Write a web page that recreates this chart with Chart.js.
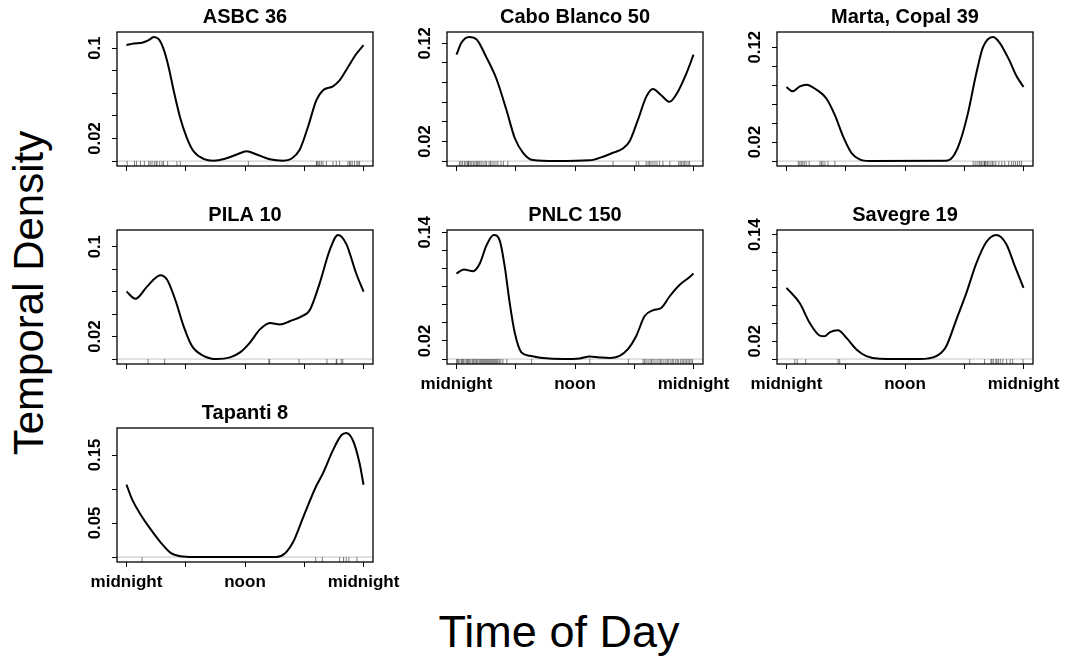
<!DOCTYPE html>
<html lang="en">
<head>
<meta charset="utf-8">
<title>Temporal density by site</title>
<script src="https://cdn.jsdelivr.net/npm/chart.js@4.4.0/dist/chart.umd.min.js"></script>
<style>
  html, body { margin: 0; padding: 0; background: #fff; overflow: hidden; }
  body { width: 1075px; height: 659px; position: relative; font-family: "Liberation Sans", Arial, sans-serif; }
  canvas { position: absolute; }
  .outer { position: absolute; color: #000; white-space: nowrap; text-align: center; width: 400px; }
  #ytitle { font-size: 42px; line-height: 42px; left: 28.75px; top: 293.3px; transform: translate(-50%, -50%) rotate(-90deg); }
  #xtitle { font-size: 45px; line-height: 45px; left: 559px; top: 631px; transform: translate(-50%, -50%); }
</style>
</head>
<body>
<div id="ytitle" class="outer">Temporal Density</div>
<div id="xtitle" class="outer">Time of Day</div>
<script>
// hours of the day on every x axis
const hourTicks = [0, 6, 12, 18, 24];
const hourLabels = ['midnight', '', 'noon', '', 'midnight'];

// ASBC 36
const asbcHours = [0, 0.74, 1.58, 2.25, 2.76, 3.26, 3.76, 4.27, 4.77, 5.45, 6.12, 6.79, 7.8, 8.8, 9.98, 11.16, 12.17, 13.18, 14.52, 15.87, 16.7, 17.55, 18.39, 19.23, 19.9, 20.9, 21.58, 22.42, 23.26, 24];
const asbcDensity = [0.1026, 0.1041, 0.1047, 0.107, 0.1099, 0.1079, 0.0991, 0.0831, 0.0627, 0.0379, 0.0204, 0.0087, 0.002, 0.0003, 0.002, 0.0058, 0.0087, 0.0058, 0.0015, 0.0003, 0.002, 0.0102, 0.0306, 0.0539, 0.0627, 0.0662, 0.0714, 0.0831, 0.0948, 0.1026];
const asbcRug = [0.07, 0.81, 1.01, 1.41, 1.81, 2.25, 2.4, 2.59, 2.82, 3.0, 3.1, 3.36, 3.6, 3.75, 4.17, 5.11, 5.45, 12.34, 19.23, 19.3, 19.4, 19.56, 19.73, 19.9, 20.24, 20.91, 21.24, 21.58, 22.42, 22.59, 22.7, 22.86, 23.09, 23.33, 23.45, 23.6];
const asbcYTicks = [0, 0.02, 0.04, 0.06, 0.08, 0.1];
const asbcYLabels = ['', '0.02', '', '', '', '0.1'];

// Cabo Blanco 50
const caboHours = [0, 0.51, 1.28, 2.02, 3.03, 4.04, 5.06, 5.9, 6.74, 7.75, 10.1, 13.48, 14.83, 15.84, 16.85, 17.53, 18.37, 19.21, 19.89, 20.73, 21.57, 22.31, 23.26, 24];
const caboDensity = [0.1084, 0.1208, 0.1265, 0.1242, 0.1057, 0.0839, 0.052, 0.0235, 0.0084, 0.001, 0, 0.0007, 0.0044, 0.0084, 0.0128, 0.0201, 0.0419, 0.0654, 0.0735, 0.0671, 0.0604, 0.0688, 0.0889, 0.1084];
const caboRug = [0.3, 0.45, 0.6, 0.8, 0.95, 1.1, 1.2, 1.25, 1.4, 1.55, 1.7, 1.85, 2.0, 2.1, 2.2, 2.35, 2.5, 2.7, 2.9, 3.05, 3.3, 3.45, 3.6, 3.8, 4.0, 4.2, 4.5, 4.75, 5.2, 15.85, 18.2, 18.45, 19.2, 19.4, 19.55, 19.7, 19.9, 20.1, 20.3, 20.55, 20.9, 21.6, 22.5, 22.65, 22.8, 22.95, 23.1, 23.25, 23.45, 23.6];
const caboYTicks = [0, 0.02, 0.04, 0.06, 0.08, 0.1, 0.12];
const caboYLabels = ['', '0.02', '', '', '', '', '0.12'];

// Marta, Copal 39
const martaHours = [0, 0.61, 1.35, 2.02, 3.03, 4.04, 4.89, 5.73, 6.57, 7.41, 8.43, 16.18, 16.85, 17.53, 18.37, 19.21, 19.89, 20.9, 21.57, 22.58, 23.26, 24];
const martaDensity = [0.0781, 0.0736, 0.0788, 0.0806, 0.0753, 0.066, 0.0486, 0.026, 0.0087, 0.0017, 0, 0.0003, 0.0045, 0.0191, 0.0503, 0.092, 0.1198, 0.1309, 0.125, 0.1059, 0.0903, 0.0781];
const martaRug = [1.2, 1.35, 1.5, 1.65, 1.8, 2.0, 2.3, 3.4, 3.55, 3.7, 3.9, 4.2, 4.9, 18.9, 19.1, 19.3, 19.5, 19.6, 19.75, 19.9, 20.05, 20.1, 20.2, 20.35, 20.5, 20.7, 20.85, 21.0, 21.2, 21.5, 21.8, 22.1, 22.5, 22.8, 23.0, 23.2, 23.4, 23.6, 23.8];
const martaYTicks = [0, 0.02, 0.04, 0.06, 0.08, 0.1, 0.12];
const martaYLabels = ['', '0.02', '', '', '', '', '0.12'];

// PILA 10
const pilaHours = [0, 0.91, 2.08, 3.43, 4.1, 4.94, 5.78, 6.62, 7.8, 9.14, 10.49, 11.5, 12.5, 13.51, 14.52, 15.53, 16.54, 17.88, 18.55, 19.56, 20.57, 21.41, 22.25, 23.26, 24];
const pilaDensity = [0.0601, 0.0536, 0.0645, 0.0747, 0.0709, 0.0528, 0.0293, 0.0117, 0.0029, 0, 0.0015, 0.0059, 0.0147, 0.0264, 0.0322, 0.0308, 0.0337, 0.0387, 0.0434, 0.0674, 0.0967, 0.1105, 0.1026, 0.0762, 0.0601];
const pilaRug = [2.19, 3.86, 14.42, 14.5, 17.48, 20.3, 21.24, 21.3, 21.75, 21.9];
const pilaYTicks = [0, 0.02, 0.04, 0.06, 0.08, 0.1];
const pilaYLabels = ['', '0.02', '', '', '', '0.1'];

// PNLC 150
const pnlcHours = [0, 0.74, 1.69, 2.36, 3.03, 3.77, 4.38, 4.89, 5.39, 5.9, 6.57, 7.41, 8.76, 10.79, 12.47, 13.48, 14.49, 15.5, 16.52, 17.36, 18.2, 19.04, 19.89, 20.73, 21.57, 22.58, 23.42, 24];
const pnlcDensity = [0.0945, 0.0989, 0.0971, 0.1055, 0.1255, 0.1371, 0.1309, 0.1018, 0.0618, 0.0291, 0.0073, 0.0036, 0.0011, 0, 0.0007, 0.0029, 0.0018, 0.0011, 0.0036, 0.0109, 0.0255, 0.0473, 0.0538, 0.0564, 0.0691, 0.0818, 0.0891, 0.0945];
const pnlcRug = [0.0, 0.1, 0.2, 0.35, 0.5, 0.6, 0.7, 0.85, 1.0, 1.1, 1.2, 1.3, 1.45, 1.6, 1.7, 1.8, 1.95, 2.05, 2.15, 2.3, 2.4, 2.5, 2.6, 2.7, 2.8, 2.9, 3.0, 3.1, 3.2, 3.3, 3.4, 3.5, 3.6, 3.7, 3.8, 3.9, 4.0, 4.1, 4.2, 4.35, 4.5, 4.7, 5.1, 7.6, 13.5, 17.4, 18.9, 19.05, 19.2, 19.4, 19.6, 19.75, 19.9, 20.1, 20.3, 20.5, 20.65, 20.8, 21.0, 21.2, 21.35, 21.5, 21.7, 21.85, 22.0, 22.2, 22.35, 22.5, 22.7, 22.85, 23.0, 23.15, 23.3, 23.45, 23.6, 23.75, 23.9];
const pnlcYTicks = [0, 0.02, 0.04, 0.06, 0.08, 0.1, 0.12, 0.14];
const pnlcYLabels = ['', '0.02', '', '', '', '', '', '0.14'];

// Savegre 19
const savegreHours = [0, 1.35, 2.36, 3.37, 3.88, 4.38, 5.22, 6.07, 7.08, 8.09, 9.44, 13.48, 15.17, 16.18, 17.19, 18.2, 19.21, 20.22, 21.23, 22.25, 23.09, 24];
const savegreDensity = [0.0802, 0.0628, 0.0405, 0.0264, 0.0256, 0.0301, 0.0323, 0.0238, 0.0108, 0.0033, 0.0004, 0, 0.0033, 0.0145, 0.0442, 0.0739, 0.1074, 0.1315, 0.1397, 0.1296, 0.1055, 0.0802];
const savegreRug = [0.84, 1.08, 1.95, 5.22, 5.39, 18.55, 20.05, 20.7, 20.8, 20.95, 21.2, 21.3, 21.45, 21.65, 21.9, 22.3, 22.65, 22.9, 23.95];
const savegreYTicks = [0, 0.02, 0.04, 0.06, 0.08, 0.1, 0.12, 0.14];
const savegreYLabels = ['', '0.02', '', '', '', '', '', '0.14'];

// Tapanti 8
const tapantiHours = [0, 0.57, 1.41, 2.42, 3.43, 4.44, 5.45, 6.79, 15.19, 16.03, 16.87, 17.88, 19.2, 19.9, 20.91, 21.75, 22.25, 22.92, 23.6, 24];
const tapantiDensity = [0.1063, 0.0848, 0.063, 0.0413, 0.022, 0.0065, 0.0012, 0, 0, 0.0051, 0.022, 0.058, 0.104, 0.1234, 0.1572, 0.179, 0.1824, 0.1717, 0.1379, 0.1063];
const tapantiRug = [1.58, 19.16, 19.83, 21.58, 21.98, 22.25, 22.52, 23.33];
const tapantiYTicks = [0, 0.05, 0.1, 0.15];
const tapantiYLabels = ['', '0.05', '', '0.15'];

const panels = [
  { title: 'ASBC 36', hours: asbcHours, density: asbcDensity, rug: asbcRug, yTicks: asbcYTicks, yLabels: asbcYLabels },
  { title: 'Cabo Blanco 50', hours: caboHours, density: caboDensity, rug: caboRug, yTicks: caboYTicks, yLabels: caboYLabels },
  { title: 'Marta, Copal 39', hours: martaHours, density: martaDensity, rug: martaRug, yTicks: martaYTicks, yLabels: martaYLabels },
  { title: 'PILA 10', hours: pilaHours, density: pilaDensity, rug: pilaRug, yTicks: pilaYTicks, yLabels: pilaYLabels },
  { title: 'PNLC 150', hours: pnlcHours, density: pnlcDensity, rug: pnlcRug, yTicks: pnlcYTicks, yLabels: pnlcYLabels },
  { title: 'Savegre 19', hours: savegreHours, density: savegreDensity, rug: savegreRug, yTicks: savegreYTicks, yLabels: savegreYLabels },
  { title: 'Tapanti 8', hours: tapantiHours, density: tapantiDensity, rug: tapantiRug, yTicks: tapantiYTicks, yLabels: tapantiYLabels }
];

// layout of the 3x3 grid (plot box positions in page pixels)
const boxLefts = [117, 447, 777];
const boxTops = [32, 230, 428];
const boxW = 256, boxH = 134;
const axisW = 60, titleH = 27, xAxisH = 36, rightPad = 40;
const family = '"Liberation Sans", Arial, Helvetica, sans-serif';

Chart.defaults.color = '#000';

// grey zero line, rug ticks and the box round the plot region
function panelFrame(rug) {
  return {
    id: 'panelFrame',
    beforeDatasetsDraw(chart) {
      const { ctx, chartArea: a, scales: { x, y } } = chart;
      ctx.save();
      const y0 = y.getPixelForValue(0);
      ctx.strokeStyle = '#c4c4c4';
      ctx.lineWidth = 1;
      ctx.beginPath();
      ctx.moveTo(a.left, y0);
      ctx.lineTo(a.right, y0);
      ctx.stroke();
      ctx.strokeStyle = 'rgba(0,0,0,0.5)';
      rug.forEach((t) => {
        const px = x.getPixelForValue(t);
        ctx.beginPath();
        ctx.moveTo(px, a.bottom);
        ctx.lineTo(px, a.bottom - 5);
        ctx.stroke();
      });
      ctx.restore();
    },
    afterDraw(chart) {
      const { ctx, chartArea: a } = chart;
      ctx.save();
      ctx.strokeStyle = '#000';
      ctx.lineWidth = 1.3;
      ctx.strokeRect(a.left, a.top, a.right - a.left, a.bottom - a.top);
      ctx.restore();
    }
  };
}

const xPad = 0.04 * (hourTicks[hourTicks.length - 1] - hourTicks[0]);

panels.forEach((p, i) => {
  const col = i % 3, row = Math.floor(i / 3);
  const showX = i + 3 >= panels.length; // bottom panel of its column
  const top = Math.max(...p.density);

  const canvas = document.createElement('canvas');
  canvas.width = axisW + boxW + rightPad;
  canvas.height = titleH + boxH + xAxisH;
  canvas.style.left = (boxLefts[col] - axisW) + 'px';
  canvas.style.top = (boxTops[row] - titleH) + 'px';
  document.body.appendChild(canvas);

  const tickGrid = { display: true, drawOnChartArea: false, drawTicks: true, tickLength: 5, color: '#000', lineWidth: 1 };

  new Chart(canvas, {
    type: 'line',
    data: {
      datasets: [{
        data: p.hours.map((h, k) => ({ x: h, y: p.density[k] })),
        borderColor: '#000',
        borderWidth: 2,
        pointRadius: 0,
        fill: false,
        cubicInterpolationMode: 'monotone'
      }]
    },
    options: {
      responsive: false,
      animation: false,
      events: [],
      layout: { padding: { left: 0, right: rightPad, top: 0, bottom: 0 } },
      plugins: {
        legend: { display: false },
        tooltip: { enabled: false },
        title: {
          display: true,
          text: p.title,
          fullSize: false,
          color: '#000',
          font: { family, size: 20, weight: 'bold', lineHeight: 1.2 },
          padding: { top: 0, bottom: titleH - 24 }
        }
      },
      scales: {
        x: {
          type: 'linear',
          bounds: 'data',
          min: hourTicks[0] - xPad,
          max: hourTicks[hourTicks.length - 1] + xPad,
          afterBuildTicks: (s) => { s.ticks = hourTicks.map((v) => ({ value: v })); },
          afterFit: (s) => { s.height = xAxisH; },
          ticks: {
            autoSkip: false,
            maxRotation: 0,
            padding: 5,
            color: '#000',
            font: { family, size: 17, weight: 'bold' },
            callback: (v, k) => (showX ? hourLabels[k] : '')
          },
          grid: tickGrid,
          border: { display: false }
        },
        y: {
          type: 'linear',
          bounds: 'data',
          min: -0.04 * top,
          max: 1.04 * top,
          afterBuildTicks: (s) => { s.ticks = p.yTicks.map((v) => ({ value: v })); },
          afterFit: (s) => { s.width = axisW; },
          ticks: {
            autoSkip: false,
            minRotation: 90,
            maxRotation: 90,
            crossAlign: 'center',
            padding: 0.5,
            color: '#000',
            font: { family, size: 16.7, weight: 'bold' },
            callback: (v, k) => p.yLabels[k]
          },
          grid: tickGrid,
          border: { display: false }
        }
      }
    },
    plugins: [panelFrame(p.rug)]
  });
});
</script>
</body>
</html>
